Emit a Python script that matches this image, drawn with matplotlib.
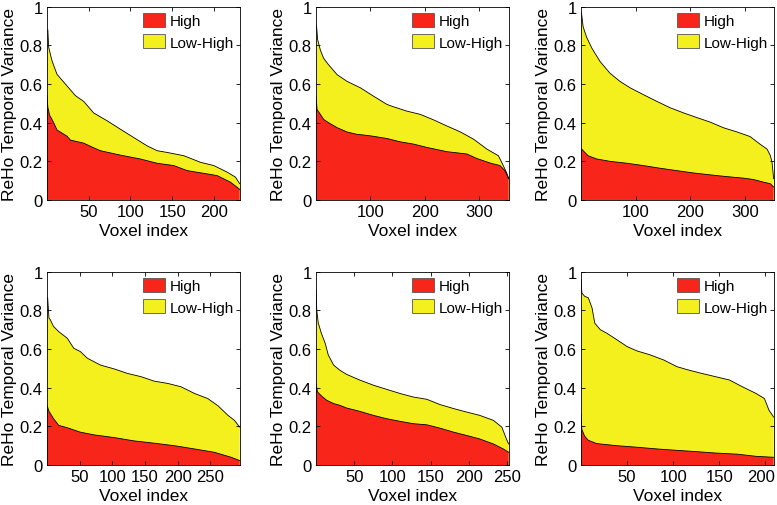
import matplotlib
matplotlib.use('Agg')
import matplotlib.pyplot as plt
from matplotlib.transforms import ScaledTranslation
import numpy as np

plt.rcParams['font.family'] = ['Liberation Sans', 'DejaVu Sans']

# Number of voxels per panel (x-axis extent)
n_voxels = [231, 355, 352, 295, 252, 209]

# Upper boundary (High + Low-High)
x_total = [
    [1, 2, 6, 12, 16, 24, 34, 44, 56, 72, 88, 104, 120, 132, 144, 164, 184, 200, 216, 226, 231],
    [1, 3, 8, 14, 23, 39, 57, 82, 106, 131, 143, 167, 192, 217, 241, 266, 290, 315, 336, 345, 352, 355],
    [1, 4, 10, 20, 35, 53, 71, 90, 114, 138, 163, 187, 212, 236, 260, 285, 309, 327, 340, 346, 349, 352],
    [1, 3, 5, 10, 18, 31, 41, 51, 62, 82, 103, 123, 144, 164, 185, 205, 226, 246, 262, 277, 287, 295],
    [0, 1, 3, 7, 12, 16, 23, 31, 40, 57, 75, 92, 110, 127, 145, 162, 180, 197, 214, 232, 243, 249, 252],
    [0, 1, 4, 8, 12, 15, 21, 28, 39, 50, 61, 75, 90, 104, 117, 131, 146, 161, 175, 190, 199, 204, 209],
]
total = [
    [0.88, 0.79, 0.72, 0.65, 0.63, 0.59, 0.54, 0.51, 0.45, 0.41, 0.366, 0.323, 0.28, 0.255, 0.246, 0.229, 0.195, 0.178, 0.144, 0.118, 0.084],
    [0.90, 0.83, 0.776, 0.733, 0.70, 0.648, 0.614, 0.58, 0.537, 0.494, 0.482, 0.46, 0.443, 0.414, 0.383, 0.352, 0.315, 0.263, 0.229, 0.178, 0.135, 0.11],
    [0.967, 0.896, 0.844, 0.785, 0.716, 0.656, 0.614, 0.58, 0.545, 0.511, 0.477, 0.451, 0.426, 0.403, 0.374, 0.352, 0.328, 0.289, 0.263, 0.229, 0.195, 0.11],
    [0.865, 0.76, 0.752, 0.717, 0.69, 0.656, 0.604, 0.587, 0.552, 0.517, 0.497, 0.474, 0.457, 0.434, 0.422, 0.405, 0.37, 0.344, 0.306, 0.257, 0.231, 0.196],
    [0.908, 0.80, 0.734, 0.682, 0.63, 0.57, 0.517, 0.491, 0.469, 0.44, 0.413, 0.392, 0.37, 0.352, 0.34, 0.313, 0.292, 0.274, 0.257, 0.231, 0.196, 0.135, 0.109],
    [0.96, 0.89, 0.873, 0.865, 0.813, 0.734, 0.70, 0.682, 0.648, 0.613, 0.59, 0.57, 0.543, 0.509, 0.491, 0.474, 0.457, 0.44, 0.405, 0.37, 0.344, 0.283, 0.248],
]

# "High" boundary
x_high = [
    [0, 1, 3, 8, 12, 24, 28, 44, 56, 64, 88, 112, 132, 152, 168, 192, 204, 220, 231],
    [0, 2, 8, 14, 23, 39, 57, 75, 100, 131, 155, 180, 204, 241, 278, 296, 321, 339, 348, 355],
    [0, 4, 13, 29, 53, 84, 114, 145, 175, 205, 236, 266, 297, 315, 334, 346, 352],
    [0, 3, 10, 18, 31, 51, 72, 103, 133, 164, 195, 226, 256, 282, 295],
    [0, 2, 7, 14, 23, 31, 40, 57, 75, 92, 110, 127, 145, 162, 180, 197, 214, 232, 245, 252],
    [0, 1, 4, 8, 17, 39, 61, 83, 104, 126, 146, 170, 190, 209],
]
high = [
    [0.54, 0.48, 0.44, 0.40, 0.362, 0.33, 0.31, 0.294, 0.27, 0.255, 0.232, 0.212, 0.19, 0.178, 0.152, 0.135, 0.126, 0.092, 0.055],
    [0.537, 0.468, 0.443, 0.417, 0.40, 0.374, 0.352, 0.34, 0.332, 0.318, 0.301, 0.289, 0.272, 0.25, 0.238, 0.215, 0.191, 0.178, 0.152, 0.11],
    [0.267, 0.255, 0.229, 0.212, 0.20, 0.19, 0.178, 0.164, 0.152, 0.14, 0.13, 0.121, 0.113, 0.106, 0.092, 0.084, 0.067],
    [0.309, 0.278, 0.24, 0.205, 0.193, 0.17, 0.156, 0.142, 0.125, 0.113, 0.10, 0.083, 0.066, 0.04, 0.023],
    [0.42, 0.378, 0.358, 0.335, 0.318, 0.309, 0.295, 0.278, 0.257, 0.24, 0.226, 0.214, 0.208, 0.191, 0.17, 0.153, 0.135, 0.109, 0.083, 0.066],
    [0.262, 0.184, 0.149, 0.128, 0.111, 0.10, 0.092, 0.083, 0.076, 0.069, 0.062, 0.056, 0.045, 0.04],
]

x_ticks = [
    [50, 100, 150, 200],
    [100, 200, 300],
    [100, 200, 300],
    [50, 100, 150, 200, 250],
    [50, 100, 150, 200, 250],
    [50, 100, 150, 200],
]
y_ticks = [0, 0.2, 0.4, 0.6, 0.8, 1]
y_tick_labels = ['0', '0.2', '0.4', '0.6', '0.8', '1']

red = '#f8261a'
yellow = '#f4f01e'

fig = plt.figure(figsize=(7.77, 5.06), dpi=100)

lefts = [0.0605, 0.4067, 0.7477]
bottoms = [0.6028, 0.079]
w, h = 0.248, 0.382

for i in range(6):
    r, c = divmod(i, 3)
    ax = fig.add_axes([lefts[c], bottoms[r], w, h])

    # yellow spans the full stack, red drawn over it
    yel = ax.fill_between(x_total[i], 0, total[i], facecolor=yellow,
                          edgecolor='none', label='Low-High')
    ax.plot(x_total[i], total[i], color='black', lw=0.6)
    rd = ax.fill_between(x_high[i], 0, high[i], facecolor=red,
                         edgecolor='none', label='High')
    ax.plot(x_high[i], high[i], color='black', lw=0.6)

    ax.set_xlim(0, n_voxels[i])
    ax.set_ylim(0, 1)
    ax.set_xticks(x_ticks[i])
    ax.set_yticks(y_ticks)
    ax.set_yticklabels(y_tick_labels)
    ax.tick_params(direction='in', length=3, width=0.6, top=True, right=True,
                   labelsize=12, pad=3)
    for s in ax.spines.values():
        s.set_linewidth(0.6)

    ax.set_xlabel('Voxel index', fontsize=12.5, labelpad=3)
    ax.set_ylabel('ReHo Temporal Variance', fontsize=12.5, labelpad=2)

    leg = ax.legend([rd, yel], ['High', 'Low-High'], loc='upper right',
                    frameon=False, fontsize=11, handlelength=1.45,
                    handleheight=1.05, handletextpad=0.3, labelspacing=0.4,
                    borderaxespad=0.2, borderpad=0.2)
    for p in leg.get_patches():
        p.set_edgecolor('#555555')
        p.set_linewidth(0.6)

    # last panel: nudge the rightmost tick label so it stays inside the figure
    if i == 5:
        lab = ax.get_xticklabels()[-1]
        lab.set_transform(lab.get_transform() +
                          ScaledTranslation(-4 / 100, 0, fig.dpi_scale_trans))

fig.savefig('out.png', dpi=100)
